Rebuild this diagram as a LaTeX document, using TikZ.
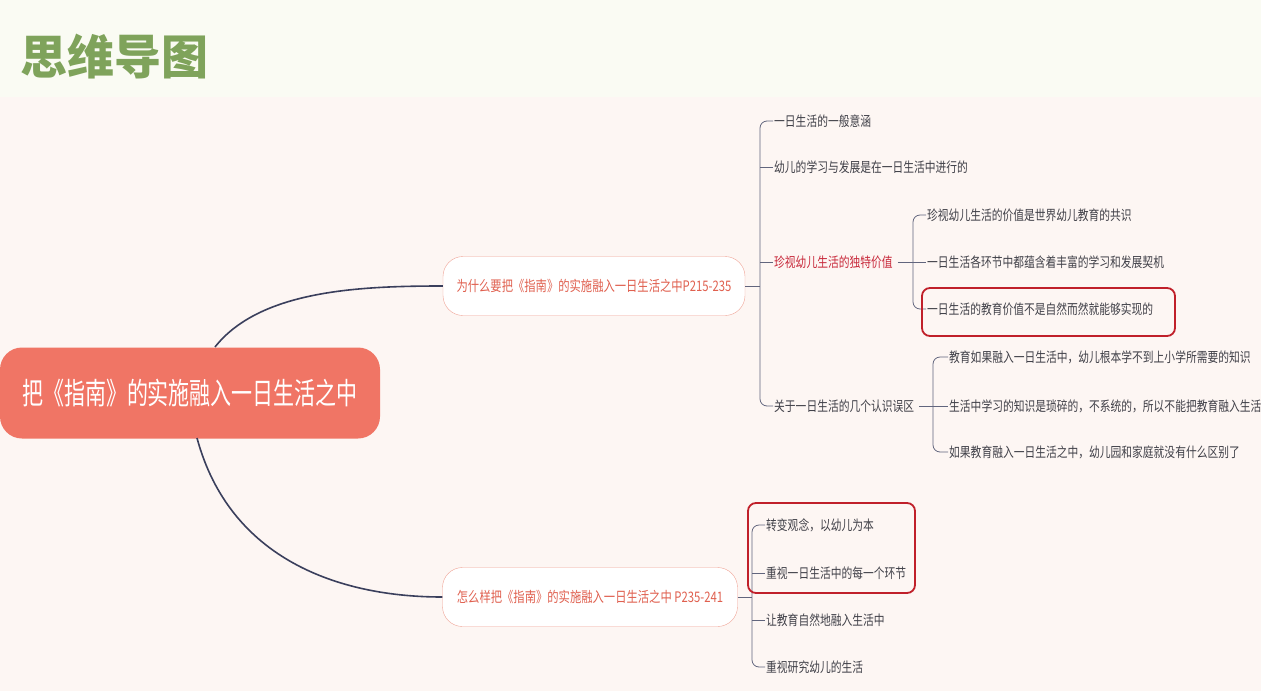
\documentclass[tikz,border=0pt]{standalone}
\usepackage{fontspec}
\setmainfont{Noto Sans CJK SC}
\newfontfamily\cond[FakeStretch=0.78]{Noto Sans CJK SC}
\newfontfamily\condr[FakeStretch=0.7]{Noto Sans CJK SC}
\usetikzlibrary{calc}
\definecolor{bgtop}{HTML}{FAFBF3}
\definecolor{bgmain}{HTML}{FDF6F3}
\definecolor{titlegreen}{HTML}{7FA35B}
\definecolor{rootfill}{HTML}{F07565}
\definecolor{brborder}{HTML}{F0A396}
\definecolor{brtext}{HTML}{E0604F}
\definecolor{navy}{HTML}{3A3F5C}
\definecolor{leaftext}{HTML}{404048}
\definecolor{hlred}{HTML}{C0202A}
\definecolor{subred}{HTML}{C8283A}
\tikzset{
  leaf/.style={anchor=west,inner sep=1pt,text=leaftext,font=\cond\fontsize{13.8}{14}\selectfont},
  branch/.style={draw=brborder,fill=white,rounded corners=20pt,text=brtext,minimum height=59pt,inner xsep=9pt,font=\cond\fontsize{14.5}{15}\selectfont},
  link/.style={draw=navy,line width=1.6pt},
  brk/.style={draw=navy!80,line width=0.8pt,rounded corners=7pt},
  hl/.style={draw=hlred,line width=1.8pt,rounded corners=8pt}
}
\begin{document}
\begin{tikzpicture}[x=1pt,y=-1pt]
\useasboundingbox (0,0) rectangle (1261,691);
\fill[bgmain] (0,0) rectangle (1261,691);
\fill[bgtop] (0,0) rectangle (1261,97);
\node[anchor=west,text=titlegreen,font=\fontsize{47}{47}\selectfont\bfseries,inner sep=0] (title) at (20,57) {思维导图};
% root
\node[fill=rootfill,rounded corners=22pt,minimum width=380pt,minimum height=91pt,text=white,font=\condr\fontsize{30}{30}\selectfont] (root) at (190,393) {把《指南》的实施融入一日生活之中};
% branches
\node[branch,minimum width=302pt] (b1) at (594,286) {为什么要把《指南》的实施融入一日生活之中P215-235};
\node[branch,minimum width=295pt] (b2) at (590,597) {怎么样把《指南》的实施融入一日生活之中 P235-241};
\draw[link] (215,347) .. controls (260,290) and (360,286) .. (b1.west);
\draw[link] (197,438) .. controls (230,560) and (340,597) .. (b2.west);
% branch 1 children
\node[leaf] (a1) at (773,121) {一日生活的一般意涵};
\node[leaf] (a2) at (773,167) {幼儿的学习与发展是在一日生活中进行的};
\node[leaf,text=subred] (a3) at (773,262) {珍视幼儿生活的独特价值};
\node[leaf] (a4) at (773,406) {关于一日生活的几个认识误区};
\coordinate (k1) at (760,286);
\draw[brk] (a1.west) -| (k1) |- (a4.west);
\draw[brk] (b1.east) -- (k1);
\draw[brk] (k1 |- a2.west) -- (a2.west);
\draw[brk] (k1 |- a3.west) -- (a3.west);
% sub of a3
\node[leaf] (s1) at (926,215) {珍视幼儿生活的价值是世界幼儿教育的共识};
\node[leaf] (s2) at (926,262) {一日生活各环节中都蕴含着丰富的学习和发展契机};
\node[leaf] (s3) at (926,309) {一日生活的教育价值不是自然而然就能够实现的};
\coordinate (k2) at (913,262);
\draw[brk] (s1.west) -| (k2) |- (s3.west);
\draw[brk] ([xshift=4pt]a3.east) -- (s2.west);
\draw[hl] (922,288) rectangle (1175,336);
% sub of a4
\node[leaf] (t1) at (948,357) {教育如果融入一日生活中，幼儿根本学不到上小学所需要的知识};
\node[leaf] (t2) at (948,406) {生活中学习的知识是琐碎的，不系统的，所以不能把教育融入生活};
\node[leaf] (t3) at (948,452) {如果教育融入一日生活之中，幼儿园和家庭就没有什么区别了};
\coordinate (k3) at (933,406);
\draw[brk] (t1.west) -| (k3) |- (t3.west);
\draw[brk] ([xshift=4pt]a4.east) -- (t2.west);
% branch 2 children
\node[leaf] (c1) at (765,525) {转变观念，以幼儿为本};
\node[leaf] (c2) at (765,573) {重视一日生活中的每一个环节};
\node[leaf] (c3) at (765,620) {让教育自然地融入生活中};
\node[leaf] (c4) at (765,667) {重视研究幼儿的生活};
\coordinate (k4) at (752,597);
\draw[brk] (c1.west) -| (k4) |- (c4.west);
\draw[brk] (b2.east) -- (k4);
\draw[brk] (k4 |- c2.west) -- (c2.west);
\draw[brk] (k4 |- c3.west) -- (c3.west);
\draw[hl] (748,503) rectangle (915,593);
\end{tikzpicture}
\end{document}
